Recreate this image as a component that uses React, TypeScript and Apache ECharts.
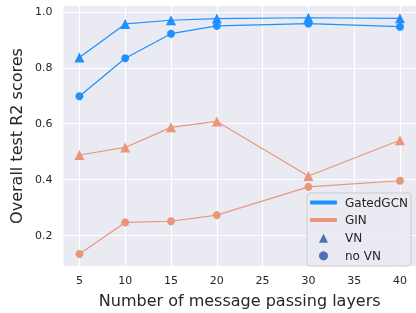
import React, { useEffect, useRef } from "react";
import * as echarts from "echarts";

const layers = [5, 10, 15, 20, 30, 40];
const gatedVN = [0.837, 0.957, 0.970, 0.976, 0.979, 0.977];
const gatedNoVN = [0.698, 0.834, 0.922, 0.950, 0.958, 0.947];
const ginVN = [0.488, 0.515, 0.587, 0.608, 0.413, 0.541];
const ginNoVN = [0.134, 0.247, 0.251, 0.273, 0.374, 0.396];
const xTicks = [5, 10, 15, 20, 25, 30, 35, 40];
const yTicks = [0.2, 0.4, 0.6, 0.8, 1.0];

const BLUE = "#1E90FF";
const SALMON = "#E9967A";
const LEG = "#4C72B0";
const FONT = "DejaVu Sans";
const TXT = "#262626";

function pts(ys: number[]) {
  return layers.map((x, i) => [x, ys[i]]);
}

export default function App() {
  const ref = useRef<HTMLDivElement>(null);
  useEffect(() => {
    const chart = echarts.init(ref.current!, undefined, { renderer: "svg" });
    const lineSeries = (name: string, data: number[], color: string, symbol: string, size: number) => ({
      type: "line",
      name,
      data: pts(data),
      color,
      symbol,
      symbolSize: size,
      showAllSymbol: true,
      lineStyle: { color, width: 1.2 },
      itemStyle: { color },
      z: 2,
    });
    chart.setOption({
      animation: false,
      textStyle: { fontFamily: FONT },
      grid: {
        left: 60,
        top: 6,
        right: -1,
        bottom: 41,
        show: true,
        backgroundColor: "#EAEAF2",
        borderWidth: 0,
      },
      xAxis: {
        type: "value",
        min: 3.25,
        max: 41.75,
        name: "Number of message passing layers",
        nameLocation: "middle",
        nameGap: 26,
        nameTextStyle: { fontSize: 16, color: TXT, fontFamily: FONT },
        axisLine: { show: false },
        axisTick: { show: false, customValues: xTicks },
        axisLabel: { customValues: xTicks, fontSize: 11, color: TXT, margin: 9, fontFamily: FONT },
        splitLine: { show: true, lineStyle: { color: "#FFFFFF", width: 1.2 } },
      },
      yAxis: {
        type: "value",
        min: 0.091,
        max: 1.021,
        name: "Overall test R2 scores",
        nameLocation: "middle",
        nameGap: 37,
        nameTextStyle: { fontSize: 16, color: TXT, fontFamily: FONT },
        axisLine: { show: false },
        axisTick: { show: false, customValues: yTicks },
        axisLabel: {
          customValues: yTicks,
          fontSize: 11,
          color: TXT,
          margin: 11,
          fontFamily: FONT,
          formatter: (v: number) => v.toFixed(1),
        },
        splitLine: { show: true, lineStyle: { color: "#FFFFFF", width: 1.2 } },
      },
      legend: [
        {
          orient: "vertical",
          left: 310,
          top: 195.5,
          padding: 0,
          itemWidth: 27,
          itemHeight: 4,
          itemGap: 3.5,
          textStyle: { fontSize: 12, color: TXT, fontFamily: FONT, padding: [0, 0, 0, 3], lineHeight: 14 },
          data: [
            { name: "GatedGCN", icon: "roundRect", itemStyle: { color: BLUE, opacity: 1 } },
            { name: "GIN", icon: "roundRect", itemStyle: { color: SALMON, opacity: 1 } },
          ],
          z: 5,
        },
        {
          orient: "vertical",
          left: 319,
          top: 231.3,
          padding: 0,
          itemWidth: 9,
          itemHeight: 9,
          itemGap: 3.5,
          textStyle: { fontSize: 12, color: TXT, fontFamily: FONT, padding: [0, 0, 0, 12], lineHeight: 14 },
          data: [
            { name: "VN", icon: "triangle", itemStyle: { color: LEG, opacity: 1 } },
            { name: "no VN", icon: "circle", itemStyle: { color: LEG, opacity: 1 } },
          ],
          z: 5,
        },
      ],
      graphic: [
        {
          type: "rect",
          z: 4,
          shape: { x: 307, y: 193, width: 104, height: 73, r: 3 },
          style: { fill: "rgba(234,234,242,0.85)", stroke: "#CCCCCC", lineWidth: 1 },
        },
      ],
      series: [
        lineSeries("GatedGCN", gatedVN, BLUE, "triangle", 10),
        lineSeries("GatedGCN", gatedNoVN, BLUE, "circle", 8),
        lineSeries("GIN", ginVN, SALMON, "triangle", 10),
        lineSeries("GIN", ginNoVN, SALMON, "circle", 8),
        { type: "scatter", name: "VN", data: [], symbol: "triangle", itemStyle: { color: LEG, opacity: 1 } },
        { type: "scatter", name: "no VN", data: [], symbol: "circle", itemStyle: { color: LEG, opacity: 1 } },
      ],
    });
    return () => chart.dispose();
  }, []);
  return <div ref={ref} style={{ position: "fixed", left: 0, top: 0, width: 416, height: 313 }} />;
}
